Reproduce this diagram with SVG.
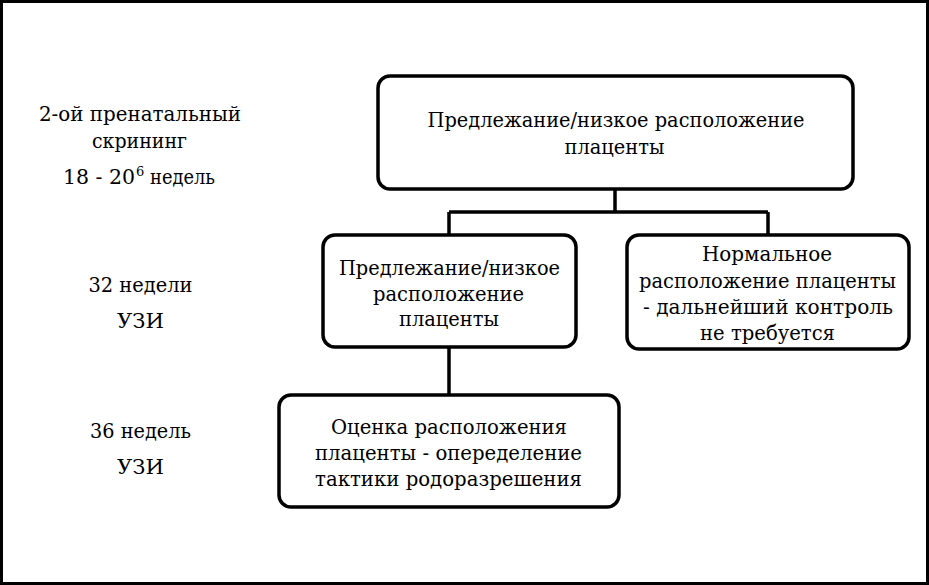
<svg xmlns="http://www.w3.org/2000/svg" width="929" height="585" viewBox="0 0 929 585">
<style>
.box{fill:#fff;stroke:#000;stroke-width:3.5}
.conn{fill:none;stroke:#000;stroke-width:3.5}
</style>
<rect x="1.5" y="1.5" width="926" height="582" fill="#fff" stroke="#000" stroke-width="3"/>
<g id="connectors">
<path class="conn" d="M615,189 V212 M449,212 H768 M449,212 V235 M768,212 V235 M449,347 V395"/>
</g>
<g font-family="DejaVu Serif, Liberation Serif, Times New Roman, serif" font-size="21" text-anchor="middle" fill="#000" lengthAdjust="spacingAndGlyphs">
<g id="labels">
<text x="140" y="121" textLength="202" lengthAdjust="spacingAndGlyphs">2-ой пренатальный</text>
<text x="139.5" y="148" textLength="95" lengthAdjust="spacingAndGlyphs">скрининг</text>
<text x="63" y="184" text-anchor="start" textLength="72" lengthAdjust="spacingAndGlyphs">18 - 20</text>
<text x="136" y="176" text-anchor="start" font-size="13">6</text>
<text x="150" y="184" text-anchor="start" textLength="65" lengthAdjust="spacingAndGlyphs">недель</text>
<text x="140.5" y="292" textLength="104" lengthAdjust="spacingAndGlyphs">32 недели</text>
<text x="140.5" y="328" textLength="47" lengthAdjust="spacingAndGlyphs">УЗИ</text>
<text x="140.5" y="438" textLength="101" lengthAdjust="spacingAndGlyphs">36 недель</text>
<text x="140.5" y="474" textLength="47" lengthAdjust="spacingAndGlyphs">УЗИ</text>
</g>
<g id="top">
<rect class="box" x="378" y="76" width="475" height="113" rx="12"/>
<text x="616" y="127" textLength="377" lengthAdjust="spacingAndGlyphs">Предлежание/низкое расположение</text>
<text x="614.5" y="154" textLength="100" lengthAdjust="spacingAndGlyphs">плаценты</text>
</g>
<g id="midLeft">
<rect class="box" x="323" y="235" width="253" height="112" rx="12"/>
<text x="449.5" y="275" textLength="221" lengthAdjust="spacingAndGlyphs">Предлежание/низкое</text>
<text x="448.5" y="301" textLength="151" lengthAdjust="spacingAndGlyphs">расположение</text>
<text x="449" y="326" textLength="100" lengthAdjust="spacingAndGlyphs">плаценты</text>
</g>
<g id="midRight">
<rect class="box" x="627" y="235" width="282" height="114" rx="12"/>
<text x="767" y="261" textLength="130" lengthAdjust="spacingAndGlyphs">Нормальное</text>
<text x="767.5" y="288" textLength="257" lengthAdjust="spacingAndGlyphs">расположение плаценты</text>
<text x="768" y="314" textLength="250" lengthAdjust="spacingAndGlyphs">- дальнейший контроль</text>
<text x="767.5" y="340" textLength="135" lengthAdjust="spacingAndGlyphs">не требуется</text>
</g>
<g id="bottom">
<rect class="box" x="279" y="395" width="340" height="112" rx="12"/>
<text x="449" y="434" textLength="236" lengthAdjust="spacingAndGlyphs">Оценка расположения</text>
<text x="448.5" y="460" textLength="267" lengthAdjust="spacingAndGlyphs">плаценты - опеределение</text>
<text x="448.5" y="486" textLength="267" lengthAdjust="spacingAndGlyphs">тактики родоразрешения</text>
</g>
</g>
</svg>
